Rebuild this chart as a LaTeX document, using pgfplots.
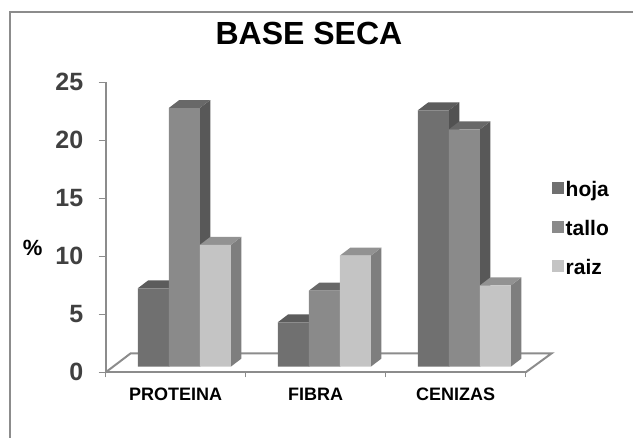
\documentclass[border=0pt]{standalone}
\usepackage{pgfplots}
\pgfplotsset{compat=1.18}
\usepackage{fontspec}
\setmainfont{Liberation Sans}
\definecolor{axisgray}{HTML}{8C8C8C}
\definecolor{frontA}{HTML}{707070}\definecolor{topA}{HTML}{5C5C5C}\definecolor{sideA}{HTML}{525252}
\definecolor{frontB}{HTML}{8A8A8A}\definecolor{topB}{HTML}{686868}\definecolor{sideB}{HTML}{585858}
\definecolor{frontC}{HTML}{C4C4C4}\definecolor{topC}{HTML}{929292}\definecolor{sideC}{HTML}{7E7E7E}
\pgfplotsset{
  barshift/.style={xshift=8.6pt,yshift=5.6pt},
  square legend/.style={legend image code/.code={\fill[##1] (0pt,-10pt) rectangle (12pt,2pt);}},
}
% #1 category centre, #2 position in group (-1,0,1), #3 value, #4 side colour, #5 top colour
\newcommand\faces[5]{%
  \pgfmathsetmacro\xa{#1+#2*31/140-15.5/140}%
  \pgfmathsetmacro\xb{\xa+31/140}%
  \pgfmathsetmacro\xc{\xb+10.5/140}%
  \pgfmathsetmacro\xd{\xa+10.5/140}%
  \pgfmathsetmacro\yt{#3+8/11.6}%
  \pgfmathsetmacro\yb{8/11.6}%
  \edef\temp{\noexpand\addplot[barshift,forget plot,fill=#4,draw=none] coordinates {(\xb,0) (\xc,\yb) (\xc,\yt) (\xb,#3)} -- cycle;
  \noexpand\addplot[barshift,forget plot,fill=#5,draw=none] coordinates {(\xa,#3) (\xb,#3) (\xc,\yt) (\xd,\yt)} -- cycle;}%
  \temp
}
\begin{document}
\begin{tikzpicture}[x=1pt,y=1pt]
\path[use as bounding box] (0,0) rectangle (633,438);
\draw[axisgray,line width=2pt] (10,-1) -- (10,426) -- (634,426);
\begin{axis}[
  at={(105.7pt,65.7pt)},anchor=south west,
  scale only axis,width=420pt,height=290pt,
  xmin=0,xmax=3,ymin=0,ymax=25,clip=false,
  axis lines*=left,
  axis line style={-,axisgray,line width=2pt},
  xtick={0.5,1.5,2.5},
  xticklabels={PROTEINA,FIBRA,CENIZAS},
  minor xtick={0,1,2,3},
  ytick={0,5,10,15,20,25},
  tick align=outside,
  major tick length=7pt,
  minor tick length=5pt,
  major x tick style={draw=none},
  minor x tick style={axisgray,line width=1.5pt},
  y tick style={axisgray,line width=1.5pt},
  /pgf/number format/assume math mode=true,
  y tick label style={font=\fontsize{25}{25}\selectfont\bfseries,text=black!75,xshift=-12pt},
  x tick label style={font=\fontsize{18}{18}\selectfont\bfseries,text=black,yshift=-5pt},
  title={BASE SECA},
  title style={at={(0.484,1)},anchor=base,yshift=32pt,font=\fontsize{32}{32}\selectfont\bfseries},
  ylabel={\%},
  ylabel style={at={(rel axis cs:0,0.43)},anchor=center,rotate=-90,xshift=-73pt,font=\fontsize{22}{22}\selectfont\bfseries},
  legend style={at={(1.062,0.665)},anchor=north west,draw=none,fill=none,
    font=\fontsize{21}{21}\selectfont\bfseries,
    row sep=18pt,inner sep=0pt,outer sep=0pt,
    /tikz/every even column/.append style={column sep=5pt}},
  legend cell align=left,
]
\addplot[axisgray,line width=2pt,forget plot] coordinates {(0,0) (0.179,1.64) (3.186,1.64) (3,0)};
% hoja
\faces{0.5}{-1}{6.76}{sideA}{topA}
\faces{1.5}{-1}{3.83}{sideA}{topA}
\faces{2.5}{-1}{22.1}{sideA}{topA}
\addplot[ybar,bar width=31pt,bar shift=-31pt,barshift,fill=frontA,draw=none,square legend] coordinates {(0.5,6.76) (1.5,3.83) (2.5,22.1)};
% tallo
\faces{0.5}{0}{22.3}{sideB}{topB}
\faces{1.5}{0}{6.55}{sideB}{topB}
\faces{2.5}{0}{20.45}{sideB}{topB}
\addplot[ybar,bar width=31pt,bar shift=0pt,barshift,fill=frontB,draw=none,square legend] coordinates {(0.5,22.3) (1.5,6.55) (2.5,20.45)};
% raiz
\faces{0.5}{1}{10.5}{sideC}{topC}
\faces{1.5}{1}{9.57}{sideC}{topC}
\faces{2.5}{1}{7.0}{sideC}{topC}
\addplot[ybar,bar width=31pt,bar shift=31pt,barshift,fill=frontC,draw=none,square legend] coordinates {(0.5,10.5) (1.5,9.57) (2.5,7.0)};
\legend{hoja,tallo,raiz}
\end{axis}
\end{tikzpicture}
\end{document}
